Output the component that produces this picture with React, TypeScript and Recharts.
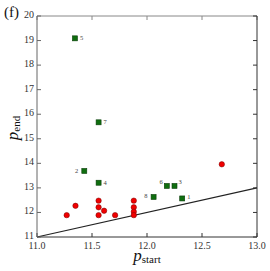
import { ReferenceLine, Scatter, ScatterChart, XAxis, YAxis } from 'recharts'

// labelled runs (green squares)
const runIds = ['1', '2', '3', '4', '5', '6', '7', '8']
const runStart = [12.32, 11.43, 12.25, 11.56, 11.345, 12.18, 11.56, 12.06]
const runEnd = [12.57, 13.69, 13.08, 13.21, 19.09, 13.08, 15.67, 12.63]

// other runs (red circles)
const otherStart = [11.27, 11.35, 11.56, 11.56, 11.56, 11.61, 11.71, 11.88, 11.88, 11.88, 11.88, 12.68]
const otherEnd = [11.89, 12.27, 12.48, 12.21, 11.89, 12.07, 11.89, 12.48, 12.21, 12.03, 11.89, 13.96]

const xTicks = [11, 11.5, 12, 12.5, 13]
const yTicks = [11, 12, 13, 14, 15, 16, 17, 18, 19, 20]
const diagonal = [{ x: 11, y: 11 }, { x: 13, y: 13 }]

const runs = runIds.map((id, i) => ({ id, x: runStart[i], y: runEnd[i] }))
const others = otherStart.map((x, i) => ({ x, y: otherEnd[i] }))

// where each run number sits relative to its marker
const labelOffset: Record<string, [number, number]> = {
  '1': [5, -1],
  '2': [-6, 0],
  '3': [4, -4],
  '4': [5, 0],
  '5': [5, 0],
  '6': [-4, -4],
  '7': [5, 0],
  '8': [-6, -1],
}

const serif = '"Liberation Serif", "DejaVu Serif", serif'
const frame = '#333'

function RunSquare(props: any) {
  const { cx, cy, payload } = props
  const [dx, dy] = labelOffset[payload.id] ?? [5, 0]
  return (
    <g>
      <rect x={cx - 2.5} y={cy - 2.5} width={5} height={5} fill="#0f6e0f" stroke="#0a3d0a" strokeWidth={0.6} />
      <text
        x={cx + dx}
        y={cy + dy + 2}
        fontSize={6.5}
        fontFamily={serif}
        fill="#444"
        textAnchor={dx < 0 ? 'end' : 'start'}
      >
        {payload.id}
      </text>
    </g>
  )
}

function OtherDot(props: any) {
  const { cx, cy } = props
  return <circle cx={cx} cy={cy} r={2.7} fill="#f00000" stroke="#700" strokeWidth={0.5} />
}

const tickStyle = { fontSize: 10, fontFamily: serif, fill: '#333' }

export default function App() {
  return (
    <div style={{ position: 'absolute', left: 0, top: 0, width: 270, height: 271, background: '#fff' }}>
      <ScatterChart width={270} height={271} margin={{ top: 15, right: 12, bottom: 14, left: 7 }}>
        <XAxis
          xAxisId="b"
          type="number"
          dataKey="x"
          domain={[11, 13]}
          ticks={xTicks}
          tickFormatter={(v: number) => v.toFixed(1)}
          height={20}
          tickSize={-4}
          tickMargin={8.5}
          tick={tickStyle}
          stroke={frame}
          allowDataOverflow
        />
        <XAxis
          xAxisId="t"
          orientation="top"
          type="number"
          dataKey="x"
          domain={[11, 13]}
          ticks={xTicks}
          tickFormatter={() => ''}
          height={1}
          tickSize={-4}
          stroke="#888"
          allowDataOverflow
        />
        <YAxis
          yAxisId="l"
          type="number"
          dataKey="y"
          domain={[11, 20]}
          ticks={yTicks}
          width={30}
          tickSize={-4}
          tickMargin={7}
          tick={{ ...tickStyle, dy: -1.5 }}
          stroke="#666"
          allowDataOverflow
        />
        <YAxis
          yAxisId="r"
          orientation="right"
          type="number"
          dataKey="y"
          domain={[11, 20]}
          ticks={yTicks}
          tickFormatter={() => ''}
          width={1}
          tickSize={-4}
          stroke={frame}
          allowDataOverflow
        />
        <ReferenceLine
          xAxisId="b"
          yAxisId="l"
          segment={diagonal}
          stroke="#222"
          strokeWidth={1.1}
          ifOverflow="visible"
        />
        <Scatter xAxisId="b" yAxisId="l" data={others} shape={OtherDot} isAnimationActive={false} />
        <Scatter xAxisId="b" yAxisId="l" data={runs} shape={RunSquare} isAnimationActive={false} />
      </ScatterChart>
      <svg width={270} height={271} style={{ position: 'absolute', left: 0, top: 0, pointerEvents: 'none' }}>
        <text x={4} y={17} fontSize={15} fontFamily={serif} fill="#111">
          (f)
        </text>
        <text x={147} y={261} textAnchor="middle" fontFamily={serif} fill="#111">
          <tspan fontSize={17} fontStyle="italic">p</tspan>
          <tspan fontSize={11} dy={2}>start</tspan>
        </text>
        <text x={18} y={128} transform="rotate(-90, 18, 128)" textAnchor="middle" fontFamily={serif} fill="#111">
          <tspan fontSize={17} fontStyle="italic">p</tspan>
          <tspan fontSize={11} dy={2}>end</tspan>
        </text>
      </svg>
    </div>
  )
}
